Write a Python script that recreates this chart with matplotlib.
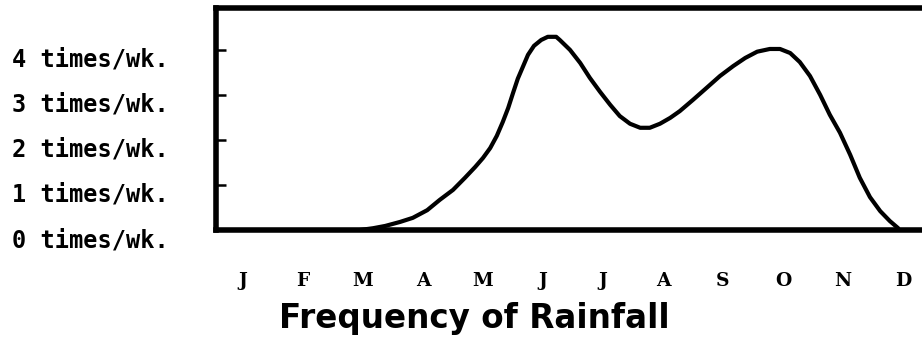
import matplotlib
matplotlib.use("Agg")
import matplotlib.pyplot as plt
from matplotlib.transforms import ScaledTranslation

months = ["J", "F", "M", "A", "M", "J", "J", "A", "S", "O", "N", "D"]
freq_labels = ["0 times/wk.", "1 times/wk.", "2 times/wk.", "3 times/wk.", "4 times/wk."]
freq_ticks = [0, 1, 2, 3, 4]

# curve: x in months (0 = Jan), y in times per week
curve_x = [1.95, 2.17, 2.37, 2.62, 2.83, 3.07, 3.28, 3.50, 3.70, 3.87, 4.00, 4.12,
           4.23, 4.33, 4.42, 4.50, 4.58, 4.67, 4.75, 4.85, 4.97, 5.08, 5.22, 5.28,
           5.45, 5.62, 5.78, 5.95, 6.12, 6.28, 6.45, 6.62, 6.78, 6.95, 7.12, 7.28,
           7.50, 7.73, 7.95, 8.17, 8.37, 8.57, 8.78, 8.95, 9.12, 9.28, 9.45, 9.62,
           9.78, 9.95, 10.12, 10.28, 10.45, 10.62, 10.78, 10.92]
curve_y = [0.00, 0.04, 0.09, 0.18, 0.27, 0.44, 0.67, 0.89, 1.16, 1.40, 1.60, 1.82,
           2.09, 2.40, 2.71, 3.04, 3.36, 3.64, 3.89, 4.09, 4.22, 4.29, 4.29, 4.22,
           4.00, 3.71, 3.38, 3.07, 2.78, 2.53, 2.36, 2.27, 2.27, 2.36, 2.49, 2.64,
           2.89, 3.16, 3.42, 3.64, 3.82, 3.96, 4.02, 4.02, 3.93, 3.73, 3.42, 3.00,
           2.56, 2.16, 1.67, 1.16, 0.73, 0.42, 0.20, 0.04]

fig = plt.figure(figsize=(9.22, 3.40), dpi=100)
fig.patch.set_facecolor("white")
ax = fig.add_axes([216 / 922, 110 / 340, 1 - 216 / 922, 222 / 340])

ax.plot(curve_x, curve_y, color="black", linewidth=3.0,
        solid_joinstyle="round", solid_capstyle="round")

ax.set_xlim(-0.45, 11.317)
ax.set_ylim(0, 4.93)

for side in ["left", "top", "bottom"]:
    ax.spines[side].set_linewidth(4.0)
    ax.spines[side].set_color("black")
ax.spines["right"].set_visible(False)

# x axis: month letters
ax.set_xticks(range(12))
ax.set_xticklabels(months, family="DejaVu Serif", fontweight="bold", fontsize=13.5)
ax.tick_params(axis="x", length=0, pad=30)

# y axis: inward ticks and frequency labels
ax.set_yticks(freq_ticks)
ax.set_yticklabels(freq_labels, family="DejaVu Sans Mono", fontweight="bold",
                   fontsize=17, ha="left")
ax.tick_params(axis="y", direction="in", length=7, width=1.8, pad=147)
shift = ScaledTranslation(0, -0.075, fig.dpi_scale_trans)
for lab in ax.get_yticklabels():
    lab.set_transform(lab.get_transform() + shift)

fig.text(0.514, 12 / 340, "Frequency of Rainfall", ha="center", va="baseline",
         fontsize=23.5, fontweight="bold", family="DejaVu Sans")

fig.savefig("out.png", dpi=100, facecolor="white")
